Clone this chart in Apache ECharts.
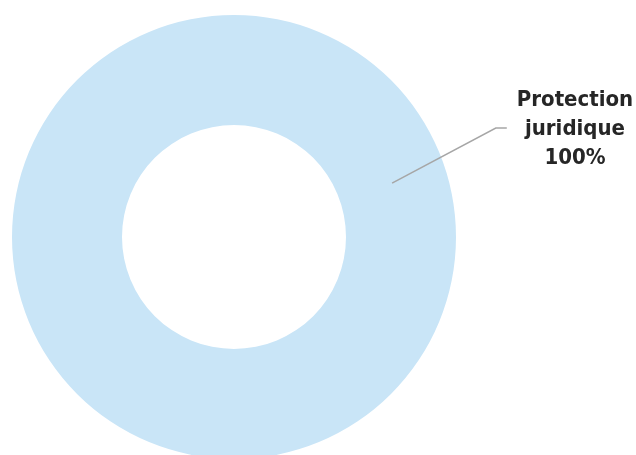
<!DOCTYPE html>
<html>
<head>
<meta charset="utf-8">
<script src="https://cdn.jsdelivr.net/npm/echarts@6/dist/echarts.min.js"></script>
<style>
  html, body { margin: 0; padding: 0; background: #fff; }
  #chart { width: 636px; height: 455px; }
</style>
</head>
<body>
<div id="chart"></div>
<script>
// Share of contracts by coverage type
const categories = ['Protection juridique'];
const values = [100];

const ringColor = '#c9e5f7';
const center = [234, 237];
const innerR = 112;
const outerR = 222;
const calloutAngle = 18.8;          // direction of the callout anchor, degrees
const labelPos = [575, 129];         // centre of the callout text block
const elbowLen = 11;

const data = categories.map((name, i) => ({ name, value: values[i] }));

const chart = echarts.init(document.getElementById('chart'), null, { renderer: 'canvas' });

chart.setOption({
  animation: false,
  series: [
    {
      // visible donut ring
      type: 'pie',
      z: 1,
      center: center,
      radius: [innerR, outerR],
      startAngle: 90,
      silent: true,
      label: { show: false },
      labelLine: { show: false },
      itemStyle: { color: ringColor, borderWidth: 0 },
      data: data
    },
    {
      // invisible carrier whose rim sits in the middle of the ring,
      // so the callout line starts inside the coloured band
      type: 'pie',
      z: 5,
      center: center,
      radius: [0, (innerR + outerR) / 2],
      startAngle: calloutAngle + 180,
      silent: true,
      avoidLabelOverlap: false,
      itemStyle: { color: 'rgba(0,0,0,0)', borderWidth: 0 },
      label: {
        show: true,
        position: 'outside',
        formatter: p => p.name.replace(' ', '\n') + '\n' + Math.round(p.percent) + '%',
        fontFamily: '"DejaVu Sans Condensed", "DejaVu Sans", sans-serif',
        fontWeight: 'bold',
        fontSize: 22,
        lineHeight: 29,
        color: '#262626',
        align: 'center',
        padding: [0, 10]
      },
      labelLine: {
        show: true,
        length: 20,
        length2: elbowLen,
        lineStyle: { color: '#a6a6a6', width: 1.5 }
      },
      labelLayout: function (params) {
        const start = params.labelLinePoints ? params.labelLinePoints[0] : null;
        const halfW = params.labelRect.width / 2;
        const endX = labelPos[0] - halfW;
        const out = {
          x: labelPos[0],
          y: labelPos[1],
          align: 'center',
          verticalAlign: 'middle'
        };
        if (start) {
          out.labelLinePoints = [
            [start[0], start[1]],
            [endX - elbowLen, labelPos[1] - 1],
            [endX, labelPos[1] - 1]
          ];
        }
        return out;
      },
      data: data
    }
  ]
});
</script>
</body>
</html>
